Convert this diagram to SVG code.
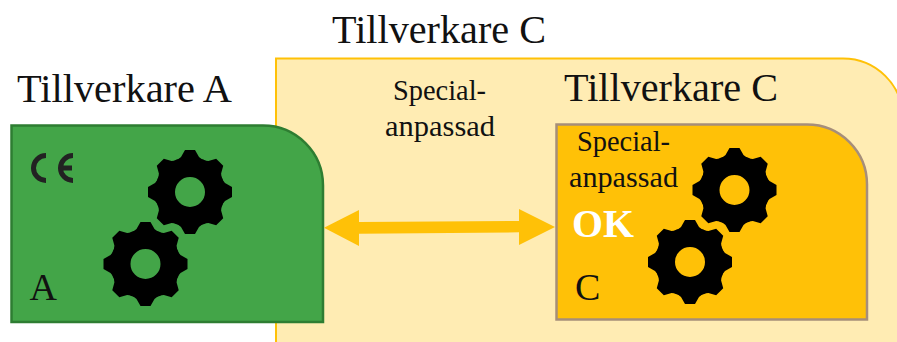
<svg xmlns="http://www.w3.org/2000/svg" width="897" height="342" viewBox="0 0 897 342">
<style>
text{font-family:"Liberation Serif","Times New Roman",serif;fill:#111}
.big{font-size:40px}
.mid{font-size:38px}
.sm{font-size:29px}
</style>
<defs>
<g id="gear">
<circle r="25" fill="none" stroke="#000" stroke-width="20"/>
<g id="t4"><polygon id="t" points="-5,-42 5,-42 9,-35 14,-31 -14,-31 -9,-35" fill="#000"/><use href="#t" transform="rotate(45)"/><use href="#t" transform="rotate(90)"/><use href="#t" transform="rotate(135)"/></g>
<use href="#t4" transform="rotate(180)"/>
</g>
</defs>
<rect width="897" height="342" fill="#fff"/>
<g id="outer"><path d="M276 350V58.500H843A60 60 0 0 1 903 118V350Z" fill="#FFECB3" stroke="#FFC107" stroke-width="2"/></g>
<text class="big" x="332" y="43" textLength="214" lengthAdjust="spacingAndGlyphs">Tillverkare C</text>
<text class="sm" x="393" y="100" textLength="93" lengthAdjust="spacingAndGlyphs">Special-</text>
<text class="sm" x="385" y="136" textLength="110" lengthAdjust="spacingAndGlyphs">anpassad</text>
<g id="node-a">
<text class="big" x="17" y="102" textLength="215" lengthAdjust="spacingAndGlyphs">Tillverkare A</text>
<path d="M11.500 322V125.500H263A60 60 0 0 1 323 185.500V322Z" fill="#43A548" stroke="#2E7D32" stroke-width="2.500"/>
<path d="M46 155.500A12.500 12.500 0 0 0 46 180.500M73 155.500A12.500 12.500 0 0 0 73 180.500M60 168H72" fill="none" stroke="#222" stroke-width="5"/>
<use href="#gear" x="190" y="192"/>
<use href="#gear" x="145.500" y="264"/>
<text class="mid" x="29.500" y="300">A</text>
</g>
<g id="node-c">
<text class="big" x="564" y="101" textLength="214" lengthAdjust="spacingAndGlyphs">Tillverkare C</text>
<path d="M556.500 319.500V124.500H807A60 60 0 0 1 867 184.500V319.500Z" fill="#FFC107" stroke="#A68E7A" stroke-width="2.500"/>
<text class="sm" x="577" y="151" textLength="93" lengthAdjust="spacingAndGlyphs">Special-</text>
<text class="sm" x="569" y="187" textLength="109" lengthAdjust="spacingAndGlyphs">anpassad</text>
<text x="572" y="237" textLength="62" lengthAdjust="spacingAndGlyphs" style="font-size:39px;font-weight:bold;fill:#fff">OK</text>
<use href="#gear" x="734.500" y="190"/>
<use href="#gear" x="690" y="262"/>
<text class="mid" x="575" y="300">C</text>
</g>
<g id="connectors"><polygon points="324,227.800 359,210 359,222 519,221 519,209 555,227 519,245 519,232.300 359,233.700 359,246" fill="#FFC107"/></g>
</svg>
